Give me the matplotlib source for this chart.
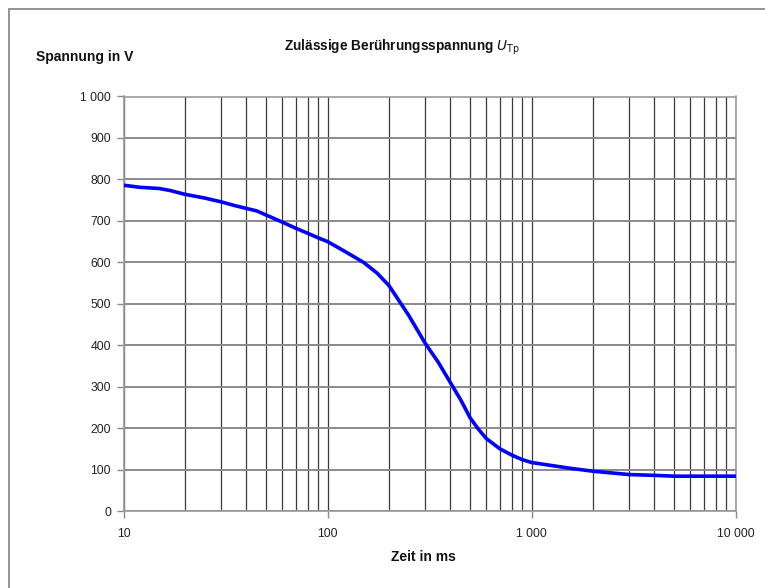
import matplotlib
matplotlib.use("Agg")
import matplotlib.pyplot as plt
from matplotlib.ticker import FixedLocator, LogLocator, NullFormatter
from matplotlib.patches import Rectangle

plt.rcParams['font.family'] = ['Liberation Sans', 'DejaVu Sans']

# Data (time in ms, voltage in V)
zeit_ms = [10, 12, 15, 17, 20, 25, 30, 35, 40, 45, 50, 60, 70, 80, 90, 100,
           120, 150, 175, 200, 250, 300, 350, 400, 450, 500, 550, 600,
           700, 800, 900, 1000, 1500, 2000, 3000, 4000, 5000, 7000, 10000]
spannung_v = [786, 781, 778, 773, 764, 755, 746, 737, 730, 724, 714, 697, 682,
              670, 659, 650, 628, 600, 574, 544, 472, 406, 358, 310, 268,
              225, 197, 175, 150, 135, 124, 117, 104, 96, 88, 86, 84, 84, 84]

x_ticks = [10, 100, 1000, 10000]
x_tick_labels = ["10", "100", "1 000", "10 000"]
y_ticks = [0, 100, 200, 300, 400, 500, 600, 700, 800, 900, 1000]
y_tick_labels = ["0", "100", "200", "300", "400", "500", "600", "700", "800", "900", "1 000"]

fig = plt.figure(figsize=(7.65, 5.88), dpi=100)
ax = fig.add_axes([123.5 / 765, 1 - 511 / 588, 612 / 765, (511 - 96.5) / 588])

ax.set_xscale('log')
ax.set_xlim(10, 10000)
ax.set_ylim(0, 1000)

ax.xaxis.set_major_locator(FixedLocator(x_ticks))
ax.set_xticklabels(x_tick_labels)
ax.xaxis.set_minor_locator(LogLocator(base=10, subs=range(2, 10)))
ax.xaxis.set_minor_formatter(NullFormatter())
ax.set_yticks(y_ticks)
ax.set_yticklabels(y_tick_labels)

ax.grid(True, axis='x', which='both', color='#3a3a3a', linewidth=0.9)
ax.grid(True, axis='y', which='major', color='#8a8a8a', linewidth=1.4)
ax.set_axisbelow(True)

ax.plot(zeit_ms, spannung_v, color='#0000ff', linewidth=2.6,
        solid_capstyle='round', solid_joinstyle='round', zorder=3)

for s in ax.spines.values():
    s.set_color('#9a9a9a')
    s.set_linewidth(1.2)

ax.tick_params(axis='both', which='major', length=5, color='#888888',
               labelsize=8.8, labelcolor='#222222', width=1.0)
ax.tick_params(axis='x', which='major', pad=7)
ax.tick_params(axis='y', which='major', pad=4)
ax.tick_params(axis='x', which='minor', length=0)

fig.text(402 / 765, 1 - 47 / 588, "Zulässige Berührungsspannung $\\mathbf{\\mathit{U}}_{\\mathrm{Tp}}$",
         ha='center', va='center', fontsize=9.8, fontweight='bold', color='#111111')
fig.text(36 / 765, 1 - 57 / 588, "Spannung in V", ha='left', va='center',
         fontsize=10, fontweight='bold', color='#111111')
fig.text(423 / 765, 1 - 557 / 588, "Zeit in ms", ha='center', va='center',
         fontsize=10, fontweight='bold', color='#111111')

# outer frame (top and left visible)
fig.patches.append(Rectangle((9 / 765, -0.05), 1.2, 1 - 9 / 588 + 0.05,
                             transform=fig.transFigure, fill=False,
                             edgecolor='#8a8a8a', linewidth=1.3))

fig.savefig("out.png", dpi=100)
